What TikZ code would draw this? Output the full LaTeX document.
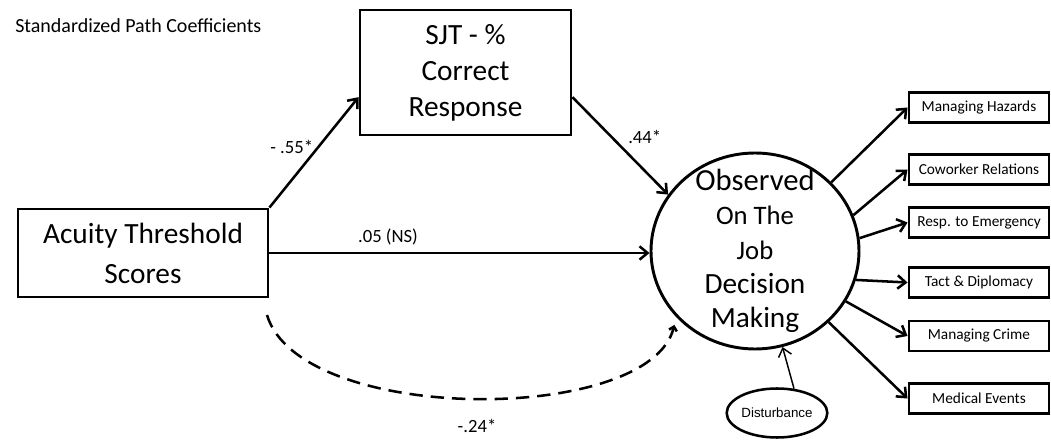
\documentclass[tikz,border=0pt]{standalone}
\usepackage{fontspec}
\setmainfont{Carlito}
\newfontfamily\distfont{Liberation Sans}
\usepackage{tikz}
\usetikzlibrary{arrows.meta}
\usetikzlibrary{shapes.geometric}

\begin{document}
\begin{tikzpicture}[
  x=0.75pt, y=-0.75pt,
  >={Straight Barb[length=6pt,width=10pt]},
  line join=miter
]
\tikzset{
    bigbox/.style = {rectangle, draw=black, line width=2.2pt, align=center, inner sep=0pt, font=\fontsize{22}{27}\selectfont},
    outbox/.style = {rectangle, draw=black, line width=2.2pt, minimum width=105pt, minimum height=22.5pt, inner sep=0pt, font=\fontsize{11.5}{13}\selectfont},
    coef/.style = {inner sep=0pt, font=\fontsize{14}{16}\selectfont},
    patharrow/.style = {->, line width=1.9pt},
    latentarrow/.style = {->, line width=1.9pt, dash pattern=on 10pt off 6pt, >={Straight Barb[length=3pt,width=6pt]}}
}
\useasboundingbox (0,0) rectangle (1051,442);

\node[anchor=base west, inner sep=0pt, font=\fontsize{15}{18}\selectfont] (title) at (15,33) {Standardized Path Coefficients};

% predictor, mediator, outcome
\node[bigbox, minimum width=158.25pt, minimum height=93.75pt] (sjt) at (465.5,72.5) {SJT - \%\\Correct\\Response};
\node[bigbox, minimum width=187.5pt, minimum height=66pt, font=\fontsize{22}{30}\selectfont] (acuity) at (143,253) {Acuity Threshold\\Scores};
\node[ellipse, draw=black, line width=2.2pt, minimum width=156pt, minimum height=147pt, inner sep=0pt] (obs) at (755,251) {};
\node[align=center, inner sep=0pt, font=\fontsize{22}{25.7}\selectfont] (obstext) at (obs.center)
  {{\fontsize{23}{25.7}\selectfont Observed}\\{\fontsize{20}{25.7}\selectfont On The}\\{\fontsize{20}{25.7}\selectfont Job}\\Decision\\Making};
\node[ellipse, draw=black, line width=1.9pt, minimum width=73.5pt, minimum height=36.75pt, inner sep=0pt, font=\distfont\fontsize{10}{12}\selectfont] (dist) at (777,413) {Disturbance};

% indicators
\node[outbox] (haz) at (979,107.5) {Managing Hazards};
\node[outbox] (cow) at (979,169.5) {Coworker Relations};
\node[outbox] (resp) at (979,222.5) {Resp. to Emergency};
\node[outbox] (tact) at (979,282.5) {Tact \& Diplomacy};
\node[outbox] (crime) at (979,336) {Managing Crime};
\node[outbox] (med) at (979,398.5) {Medical Events};

% paths
\draw[patharrow] (acuity.north east) -- (sjt.193);
\draw[patharrow] (sjt.-13) -- (obs.147);
\draw[patharrow] (acuity.east) -- (acuity.east -| obs.west);
\coordinate (dstart) at (267,315);
\draw[latentarrow, shorten >=6pt] (dstart) .. controls (300,425) and (650,425) .. (obs.220);
\draw[->, line width=1.1pt] (dist.55) -- (obs.-74);

\foreach \ang/\ind in {42/haz, 20/cow, 7/resp, -16/tact, -29/crime, -44/med}
  \draw[patharrow] (obs.\ang) -- (\ind.west);

% coefficients
\node[coef, anchor=base west] (c1) at (270,154) {- .55*};
\node[coef, anchor=base west] (c2) at (628,144) {.44*};
\node[coef, anchor=base] (c3) at (388,243) {.05 (NS)};
\node[coef, anchor=base] (c4) at (477,432) {-.24*};
\end{tikzpicture}
\end{document}
